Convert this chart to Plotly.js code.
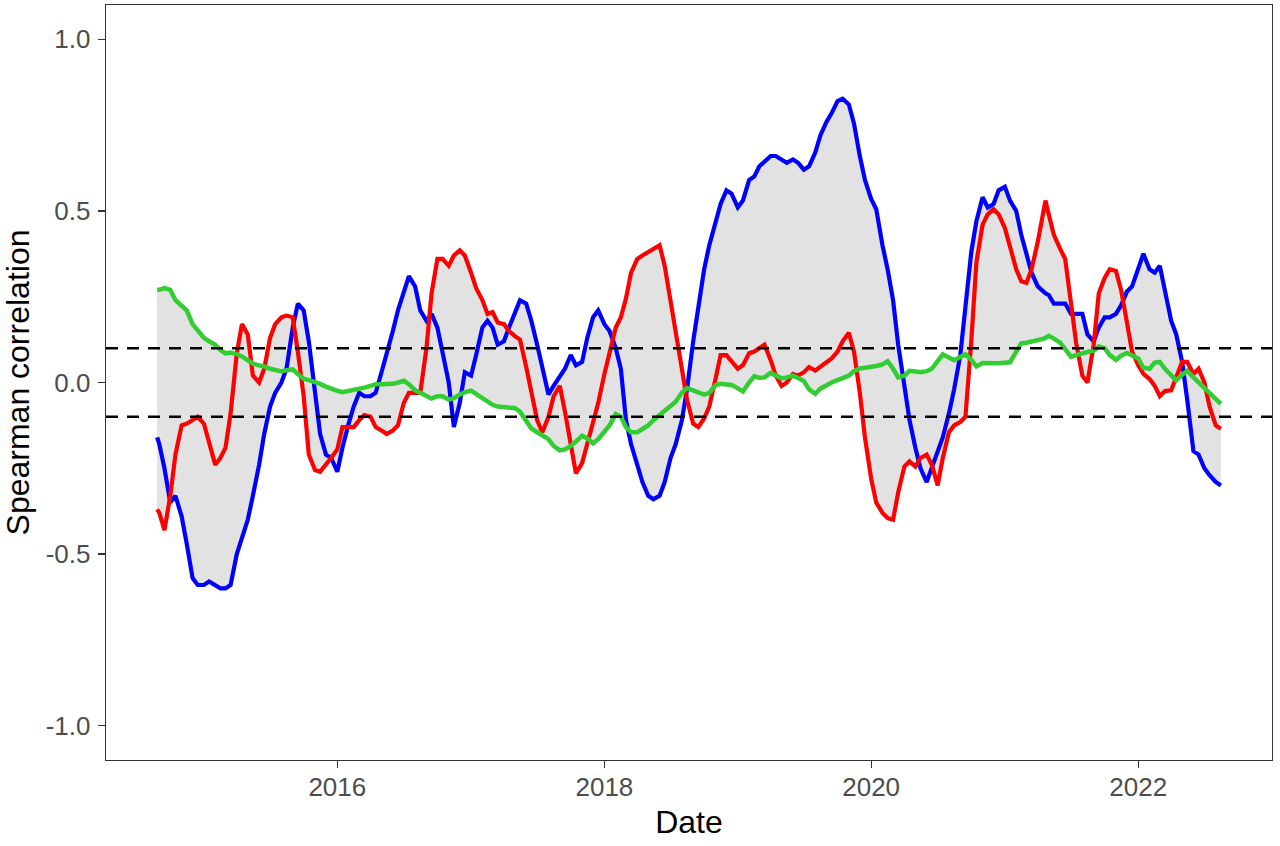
<!DOCTYPE html>
<html>
<head>
<meta charset="utf-8">
<script src="https://cdn.plot.ly/plotly-3.0.1.min.js"></script>
<style>html,body{margin:0;padding:0;background:#fff;}#chart{width:1280px;height:846px;}</style>
</head>
<body>
<div id="chart"></div>
<script>
const dates = [
'2014-08-26','2014-09-01','2014-09-15','2014-10-01','2014-10-15','2014-11-01','2014-11-15','2014-12-01','2014-12-15',
'2015-01-01','2015-01-15','2015-02-01','2015-02-15','2015-03-01','2015-03-15','2015-04-01','2015-04-15','2015-05-01','2015-05-15','2015-06-01','2015-06-15','2015-07-01','2015-07-15','2015-08-01','2015-08-15','2015-09-01','2015-09-15','2015-10-01','2015-10-15','2015-11-01','2015-11-15','2015-12-01','2015-12-15',
'2016-01-01','2016-01-15','2016-02-01','2016-02-15','2016-03-01','2016-03-15','2016-04-01','2016-04-15','2016-05-01','2016-05-15','2016-06-01','2016-06-15','2016-07-01','2016-07-15','2016-08-01','2016-08-15','2016-09-01','2016-09-15','2016-10-01','2016-10-15','2016-11-01','2016-11-15','2016-12-01','2016-12-15',
'2017-01-01','2017-01-15','2017-02-01','2017-02-15','2017-03-01','2017-03-15','2017-04-01','2017-04-15','2017-05-01','2017-05-15','2017-06-01','2017-06-15','2017-07-01','2017-07-15','2017-08-01','2017-08-15','2017-09-01','2017-09-15','2017-10-01','2017-10-15','2017-11-01','2017-11-15','2017-12-01','2017-12-15',
'2018-01-01','2018-01-15','2018-02-01','2018-02-15','2018-03-01','2018-03-15','2018-04-01','2018-04-15','2018-05-01','2018-05-15','2018-06-01','2018-06-15','2018-07-01','2018-07-15','2018-08-01','2018-08-15','2018-09-01','2018-09-15','2018-10-01','2018-10-15','2018-11-01','2018-11-15','2018-12-01','2018-12-15',
'2019-01-01','2019-01-15','2019-02-01','2019-02-15','2019-03-01','2019-03-15','2019-04-01','2019-04-15','2019-05-01','2019-05-15','2019-06-01','2019-06-15','2019-07-01','2019-07-15','2019-08-01','2019-08-15','2019-09-01','2019-09-15','2019-10-01','2019-10-15','2019-11-01','2019-11-15','2019-12-01','2019-12-15',
'2020-01-01','2020-01-15','2020-02-01','2020-02-15','2020-03-01','2020-03-15','2020-04-01','2020-04-15','2020-05-01','2020-05-15','2020-06-01','2020-06-15','2020-07-01','2020-07-15','2020-08-01','2020-08-15','2020-09-01','2020-09-15','2020-10-01','2020-10-15','2020-11-01','2020-11-15','2020-12-01','2020-12-15',
'2021-01-01','2021-01-15','2021-02-01','2021-02-15','2021-03-01','2021-03-15','2021-04-01','2021-04-15','2021-04-22','2021-05-01','2021-05-15','2021-06-01','2021-06-15','2021-07-01','2021-07-15','2021-08-01','2021-08-15','2021-09-01','2021-09-15','2021-10-01','2021-10-15','2021-11-01','2021-11-15','2021-12-01','2021-12-15',
'2022-01-01','2022-01-15','2022-02-01','2022-02-15','2022-03-01','2022-03-15','2022-04-01','2022-04-15','2022-05-01','2022-05-15','2022-06-01','2022-06-15','2022-07-01','2022-07-15','2022-08-01','2022-08-15'
];

const blueSeries = [
-0.16,-0.18,-0.25,-0.35,-0.33,-0.39,-0.47,-0.57,-0.59,
-0.59,-0.58,-0.59,-0.60,-0.60,-0.59,-0.50,-0.45,-0.40,-0.33,-0.24,-0.15,-0.07,-0.03,0.00,0.04,0.16,0.23,0.21,0.12,-0.02,-0.15,-0.21,-0.22,
-0.26,-0.19,-0.12,-0.07,-0.03,-0.04,-0.04,-0.03,0.03,0.08,0.15,0.21,0.26,0.31,0.28,0.21,0.18,0.20,0.16,0.09,0.00,-0.13,-0.06,0.03,
0.02,0.08,0.16,0.18,0.16,0.11,0.12,0.16,0.20,0.24,0.23,0.18,0.11,0.05,-0.035,-0.01,0.02,0.04,0.08,0.05,0.06,0.13,0.19,0.21,
0.17,0.15,0.10,0.04,-0.11,-0.18,-0.24,-0.29,-0.33,-0.34,-0.33,-0.29,-0.22,-0.18,-0.11,-0.02,0.12,0.22,0.33,0.40,0.46,0.52,0.56,0.55,
0.51,0.53,0.59,0.60,0.63,0.645,0.66,0.66,0.65,0.64,0.65,0.64,0.62,0.63,0.67,0.72,0.76,0.785,0.82,0.827,0.81,0.755,0.66,0.59,
0.535,0.505,0.40,0.33,0.24,0.11,-0.01,-0.11,-0.19,-0.25,-0.29,-0.25,-0.20,-0.16,-0.09,-0.02,0.08,0.21,0.38,0.47,0.54,0.51,0.52,0.56,
0.57,0.53,0.50,0.43,0.37,0.32,0.28,0.265,0.26,0.255,0.23,0.23,0.23,0.20,0.20,0.20,0.14,0.12,0.16,0.19,0.19,0.20,0.225,0.265,0.28,
0.33,0.375,0.33,0.32,0.34,0.27,0.18,0.14,0.06,-0.05,-0.20,-0.21,-0.25,-0.27,-0.29,-0.30
];

const redSeries = [
-0.37,-0.38,-0.43,-0.33,-0.21,-0.125,-0.12,-0.11,-0.10,
-0.12,-0.17,-0.24,-0.22,-0.19,-0.09,0.085,0.17,0.14,0.02,0.00,0.04,0.13,0.17,0.19,0.195,0.19,0.09,-0.04,-0.21,-0.255,-0.26,-0.24,-0.22,
-0.195,-0.13,-0.13,-0.13,-0.11,-0.095,-0.10,-0.13,-0.14,-0.15,-0.14,-0.125,-0.06,-0.03,-0.03,-0.03,0.10,0.26,0.36,0.36,0.34,0.37,0.385,0.37,
0.32,0.275,0.24,0.20,0.205,0.175,0.17,0.15,0.135,0.125,0.045,-0.03,-0.11,-0.145,-0.10,-0.04,-0.01,-0.085,-0.18,-0.265,-0.235,-0.18,-0.12,-0.06,
0.025,0.09,0.16,0.19,0.245,0.32,0.36,0.37,0.38,0.39,0.40,0.34,0.235,0.15,0.03,-0.05,-0.12,-0.13,-0.105,-0.07,0.01,0.08,0.08,0.06,
0.04,0.05,0.085,0.09,0.10,0.11,0.065,0.02,-0.01,0.00,0.025,0.02,0.03,0.045,0.035,0.045,0.06,0.07,0.09,0.12,0.145,0.09,-0.03,-0.16,
-0.28,-0.35,-0.38,-0.395,-0.40,-0.32,-0.245,-0.23,-0.245,-0.22,-0.21,-0.24,-0.30,-0.22,-0.145,-0.125,-0.115,-0.10,0.12,0.35,0.46,0.49,0.505,0.49,
0.45,0.40,0.33,0.295,0.29,0.33,0.41,0.49,0.53,0.49,0.43,0.39,0.36,0.23,0.115,0.02,0.00,0.11,0.26,0.305,0.33,0.325,0.27,0.175,0.09,
0.05,0.025,0.01,-0.01,-0.04,-0.025,-0.023,0.015,0.06,0.06,0.025,0.04,0.00,-0.07,-0.125,-0.135
];

const greenSeries = [
0.27,0.27,0.275,0.27,0.24,0.225,0.21,0.17,0.15,
0.13,0.12,0.11,0.095,0.085,0.087,0.083,0.076,0.065,0.055,0.05,0.047,0.04,0.035,0.032,0.036,0.038,0.025,0.011,0.007,0.002,-0.004,-0.012,-0.019,
-0.024,-0.028,-0.025,-0.023,-0.019,-0.015,-0.01,-0.005,-0.005,-0.005,-0.004,0.0,0.005,-0.005,-0.023,-0.03,-0.04,-0.047,-0.04,-0.04,-0.05,-0.046,-0.035,-0.028,
-0.024,-0.033,-0.046,-0.055,-0.065,-0.07,-0.072,-0.072,-0.075,-0.085,-0.11,-0.134,-0.145,-0.155,-0.165,-0.185,-0.198,-0.195,-0.185,-0.172,-0.155,-0.163,-0.177,-0.165,
-0.145,-0.125,-0.092,-0.1,-0.13,-0.145,-0.145,-0.137,-0.125,-0.11,-0.095,-0.085,-0.07,-0.056,-0.03,-0.016,-0.023,-0.03,-0.035,-0.03,-0.008,-0.004,-0.004,-0.007,
-0.017,-0.026,0.0,0.018,0.014,0.015,0.028,0.02,0.012,0.015,0.02,0.013,0.004,-0.02,-0.033,-0.018,-0.006,0.0,0.007,0.012,0.02,0.033,0.041,0.043,
0.045,0.048,0.053,0.062,0.04,0.015,0.02,0.034,0.032,0.03,0.033,0.04,0.062,0.082,0.073,0.065,0.074,0.082,0.066,0.047,0.057,0.058,0.056,0.056,
0.058,0.059,0.09,0.114,0.116,0.119,0.122,0.127,0.13,0.136,0.128,0.116,0.097,0.075,0.08,0.086,0.089,0.093,0.105,0.1,0.08,0.066,0.078,0.086,0.08,
0.07,0.043,0.04,0.058,0.06,0.04,0.022,0.006,0.023,0.034,0.015,0.0,-0.018,-0.033,-0.05,-0.062
];

const thresholds = [0.1, -0.1];
const yTickVals = [-1.0, -0.5, 0.0, 0.5, 1.0];
const yTickText = ['-1.0', '-0.5', '0.0', '0.5', '1.0'];
const xTickVals = ['2016-01-01', '2018-01-01', '2020-01-01', '2022-01-01'];
const xTickText = ['2016', '2018', '2020', '2022'];

const upperEnv = dates.map((d, i) => Math.max(blueSeries[i], redSeries[i], greenSeries[i]));
const lowerEnv = dates.map((d, i) => Math.min(blueSeries[i], redSeries[i], greenSeries[i]));

const traces = [
  {x: dates, y: lowerEnv, type: 'scatter', mode: 'lines', line: {width: 0, color: 'rgba(0,0,0,0)'}, hoverinfo: 'skip', showlegend: false},
  {x: dates, y: upperEnv, type: 'scatter', mode: 'lines', fill: 'tonexty', fillcolor: '#E2E2E2', line: {width: 0, color: 'rgba(0,0,0,0)'}, hoverinfo: 'skip', showlegend: false},
  {x: dates, y: blueSeries, type: 'scatter', mode: 'lines', line: {color: '#0000FF', width: 4.2}, showlegend: false},
  {x: dates, y: redSeries, type: 'scatter', mode: 'lines', line: {color: '#FF0000', width: 4.2}, showlegend: false},
  {x: dates, y: greenSeries, type: 'scatter', mode: 'lines', line: {color: '#32CD32', width: 4.5}, showlegend: false}
];

const fontFam = 'Liberation Sans, Arial, sans-serif';

const layout = {
  width: 1280, height: 846,
  margin: {l: 106, r: 8, t: 5, b: 86},
  paper_bgcolor: '#FFFFFF', plot_bgcolor: '#FFFFFF',
  showlegend: false,
  font: {family: fontFam, color: '#4D4D4D'},
  xaxis: {
    type: 'date', range: ['2014-04-08', '2023-01-02'],
    showgrid: false, zeroline: false,
    showline: true, mirror: true, linecolor: '#333333', linewidth: 1.3,
    ticks: 'outside', ticklen: 7, tickwidth: 1.3, tickcolor: '#333333',
    tickmode: 'array', tickvals: xTickVals, ticktext: xTickText,
    ticklabelstandoff: -4,
    tickfont: {size: 26, color: '#4D4D4D', family: fontFam},
    title: {text: 'Date', font: {size: 32, color: '#000000', family: fontFam}, standoff: 10}
  },
  yaxis: {
    range: [-1.1, 1.1],
    showgrid: false, zeroline: false,
    showline: true, mirror: true, linecolor: '#333333', linewidth: 1.3,
    ticks: 'outside', ticklen: 7, tickwidth: 1.3, tickcolor: '#333333',
    tickmode: 'array', tickvals: yTickVals, ticktext: yTickText,
    ticklabelstandoff: 2,
    tickfont: {size: 26, color: '#4D4D4D', family: fontFam},
    title: {text: 'Spearman correlation', font: {size: 32, color: '#000000', family: fontFam}, standoff: 6}
  },
  shapes: thresholds.map(v => ({
    type: 'line', xref: 'paper', x0: 0, x1: 1, yref: 'y', y0: v, y1: v,
    line: {color: '#000000', width: 2.5, dash: '12px,9px'}, layer: 'above'
  }))
};

Plotly.newPlot('chart', traces, layout, {displayModeBar: false, staticPlot: true});
</script>
</body>
</html>
